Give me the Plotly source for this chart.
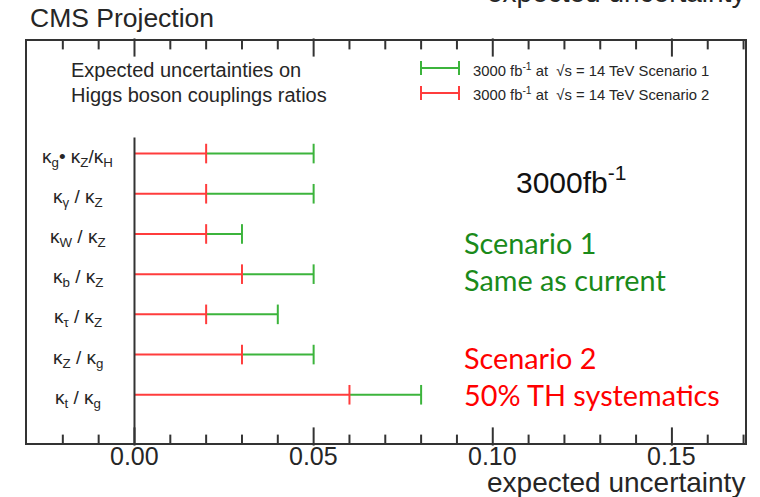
import numpy as np
import plotly.graph_objects as go

labels = ["κ<sub>g</sub>• κ<sub>Z</sub>/κ<sub>H</sub>", "κ<sub>γ</sub> / κ<sub>Z</sub>",
          "κ<sub>W</sub> / κ<sub>Z</sub>", "κ<sub>b</sub> / κ<sub>Z</sub>",
          "κ<sub>τ</sub> / κ<sub>Z</sub>", "κ<sub>Z</sub> / κ<sub>g</sub>",
          "κ<sub>t</sub> / κ<sub>g</sub>"]
scenario2 = [0.02, 0.02, 0.02, 0.03, 0.02, 0.03, 0.06]
scenario1 = [0.05, 0.05, 0.03, 0.05, 0.04, 0.05, 0.08]
xticks = [0.0, 0.05, 0.10, 0.15]
xticklabels = ["0.00", "0.05", "0.10", "0.15"]
minor_ticks = [float(round(v, 2)) for v in np.arange(-0.02, 0.1701, 0.01)]

GREEN = "rgb(60,180,60)"
RED = "rgb(255,60,60)"
FRAME = "#333333"
TXT = "#262626"
XMIN, XMAX = -0.03, 0.1704
YMIN, YMAX = 7.2, -2.8

rows = list(range(len(labels)))

gx, gy, rx, ry = [], [], [], []
for i in rows:
    gx += [scenario2[i], scenario1[i], None]
    gy += [i, i, None]
    rx += [0, scenario2[i], None]
    ry += [i, i, None]

fig = go.Figure()
fig.add_trace(go.Scatter(x=gx, y=gy, mode="lines", line=dict(color=GREEN, width=2),
                         showlegend=False, hoverinfo="skip"))
fig.add_trace(go.Scatter(x=scenario1, y=rows, mode="markers",
                         marker=dict(symbol="line-ns", size=14, line=dict(color=GREEN, width=2)),
                         showlegend=False, hoverinfo="skip"))
fig.add_trace(go.Scatter(x=rx, y=ry, mode="lines", line=dict(color=RED, width=2),
                         showlegend=False, hoverinfo="skip"))
fig.add_trace(go.Scatter(x=scenario2, y=rows, mode="markers",
                         marker=dict(symbol="line-ns", size=14, line=dict(color=RED, width=2)),
                         showlegend=False, hoverinfo="skip"))

# inside tick marks on bottom and top frame, drawn as vertical-line markers
px_per_row = 402 / (YMIN - YMAX)
for major in (True, False):
    vals = [v for v in minor_ticks if any(abs(v - t) < 1e-9 for t in xticks) == major]
    size = 13 if major else 7
    half = size / 2 / px_per_row
    fig.add_trace(go.Scatter(
        x=vals + vals,
        y=[YMIN - half] * len(vals) + [YMAX + half] * len(vals),
        mode="markers",
        marker=dict(symbol="line-ns", size=size, line=dict(color=FRAME, width=2)),
        showlegend=False, hoverinfo="skip", cliponaxis=False))

annotations = []
for i, lab in enumerate(labels):
    annotations.append(dict(x=-0.0158, y=i, xref="x", yref="y", text=lab, showarrow=False,
                            xanchor="center", yanchor="middle", yshift=-4,
                            font=dict(family="Liberation Sans, Arial", size=19, color=TXT)))

# x tick labels
for v, t in zip(xticks, xticklabels):
    annotations.append(dict(x=v, y=0, xref="x", yref="paper", text=t, showarrow=False,
                            xanchor="center", yanchor="middle", yshift=-13,
                            font=dict(family="Liberation Sans, Arial", size=25, color=TXT)))

def pa(x, y, text, size, color=TXT, family="Liberation Sans, Arial", xanchor="left"):
    # pixel coordinates -> paper coordinates
    px = (x - 27) / (745 - 27)
    py = (443 - y) / (443 - 41)
    annotations.append(dict(x=px, y=py, xref="paper", yref="paper", text=text, showarrow=False,
                            xanchor=xanchor, yanchor="middle",
                            font=dict(family=family, size=size, color=color)))

pa(28, 18, "CMS Projection", 26.5)
pa(747, -8, "expected uncertainty", 28, xanchor="right")
pa(747, 482, "expected uncertainty", 28, xanchor="right")
pa(69, 70, "Expected uncertainties on", 20)
pa(69, 95, "Higgs boson couplings ratios", 20)
pa(471, 70, "3000 fb<sup>-1</sup> at  √s = 14 TeV Scenario 1", 14.8)
pa(471, 94, "3000 fb<sup>-1</sup> at  √s = 14 TeV Scenario 2", 14.8)
pa(514, 180, "3000fb<sup>-1</sup>", 30, color="#111111")
pa(462, 243, "Scenario 1", 28.8, color="#1a8a1a", family="Lato")
pa(462, 280, "Same as current", 28.8, color="#1a8a1a", family="Lato")
pa(462, 358, "Scenario 2", 28.8, color="#ff0000", family="Lato")
pa(462, 395, "50% TH systematics", 28.8, color="#ff0000", family="Lato")

shapes = []
def pline(x0, y0, x1, y1, color, w=2):
    shapes.append(dict(type="line", xref="paper", yref="paper",
                       x0=(x0 - 27) / 718, x1=(x1 - 27) / 718,
                       y0=(443 - y0) / 402, y1=(443 - y1) / 402,
                       line=dict(color=color, width=w)))

for yy, col in [(68, GREEN), (93, RED)]:
    pline(421, yy, 459, yy, col)
    pline(421, yy - 7, 421, yy + 7, col)
    pline(459, yy - 7, 459, yy + 7, col)

# y axis line at x = 0
shapes.append(dict(type="line", xref="x", yref="y", x0=0, x1=0, y0=-0.4, y1=YMIN,
                   line=dict(color=FRAME, width=2)))

fig.update_layout(
    width=760, height=497,
    margin=dict(l=27, r=15, t=41, b=54),
    paper_bgcolor="white", plot_bgcolor="white",
    annotations=annotations, shapes=shapes,
    showlegend=False,
)
fig.update_xaxes(range=[XMIN, XMAX], showgrid=False, zeroline=False,
                 showline=True, linecolor=FRAME, linewidth=2, mirror=True,
                 ticks="", showticklabels=False)
fig.update_yaxes(range=[YMIN, YMAX], showgrid=False, zeroline=False,
                 showline=True, linecolor=FRAME, linewidth=2, mirror=True,
                 showticklabels=False, ticks="")

fig.write_html("out.html")
